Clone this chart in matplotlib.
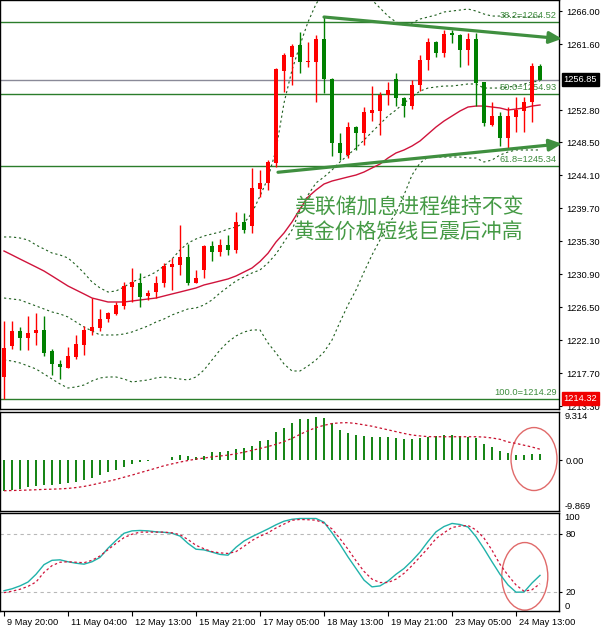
import matplotlib
matplotlib.use("Agg")
import numpy as np
import matplotlib.pyplot as plt
import matplotlib.transforms as mtransforms
from matplotlib.patches import Ellipse

plt.rcParams["font.family"] = ["Liberation Sans", "DejaVu Sans"]

# ---- H4 candles (XAUUSD) ----
opens = [1217.20, 1221.33, 1223.33, 1222.40, 1223.07, 1223.47, 1220.67, 1218.93, 1218.40, 1219.87,
         1221.47, 1223.33, 1223.73, 1224.93, 1225.60, 1226.67, 1229.20, 1229.73, 1228.00, 1228.53,
         1229.73, 1231.87, 1232.13, 1233.20, 1229.73, 1231.47, 1234.67, 1233.87, 1234.80, 1234.13,
         1237.87, 1237.33, 1242.27, 1243.07, 1245.73, 1258.00, 1259.87, 1261.47, 1259.20, 1259.20,
         1262.27, 1256.93, 1248.40, 1246.80, 1250.53, 1249.73, 1252.40, 1252.67, 1254.80, 1256.93,
         1254.40, 1253.33, 1256.13, 1259.47, 1261.87, 1260.40, 1263.07, 1262.80, 1260.80, 1262.27,
         1256.53, 1250.80, 1252.00, 1249.07, 1251.87, 1252.67, 1253.87, 1258.67]
highs = [1224.67, 1224.67, 1223.87, 1225.33, 1225.73, 1225.33, 1220.93, 1219.47, 1221.20, 1222.80,
         1224.00, 1227.73, 1226.27, 1225.87, 1227.20, 1229.87, 1231.73, 1231.07, 1228.80, 1230.67,
         1232.40, 1233.07, 1237.47, 1234.93, 1231.47, 1234.80, 1235.33, 1235.60, 1236.13, 1239.20,
         1239.07, 1245.07, 1244.80, 1246.13, 1258.40, 1260.40, 1261.60, 1263.20, 1261.87, 1262.80,
         1265.20, 1257.07, 1249.73, 1251.20, 1250.67, 1253.20, 1256.00, 1255.20, 1256.53, 1257.73,
         1254.53, 1256.80, 1260.13, 1262.40, 1262.00, 1263.47, 1263.47, 1262.93, 1263.07, 1263.07,
         1256.53, 1253.87, 1252.53, 1253.20, 1254.53, 1254.53, 1259.07, 1258.93]
lows = [1214.32, 1220.93, 1220.80, 1220.80, 1221.47, 1220.00, 1217.47, 1216.93, 1218.40, 1219.60,
        1220.13, 1222.80, 1223.33, 1224.53, 1225.47, 1226.27, 1227.20, 1226.53, 1227.47, 1227.73,
        1229.20, 1228.80, 1230.80, 1229.47, 1229.73, 1230.40, 1232.67, 1233.33, 1233.47, 1233.73,
        1236.40, 1236.40, 1241.20, 1242.13, 1245.20, 1255.20, 1256.13, 1257.73, 1258.53, 1253.87,
        1255.07, 1246.67, 1246.13, 1246.40, 1247.47, 1248.13, 1251.33, 1249.47, 1253.47, 1253.33,
        1251.87, 1252.93, 1255.33, 1258.13, 1259.87, 1259.87, 1261.73, 1258.53, 1258.80, 1253.33,
        1250.67, 1250.67, 1248.00, 1247.73, 1249.87, 1249.87, 1251.20, 1256.85]
closes = [1221.07, 1223.33, 1222.40, 1223.07, 1223.47, 1220.40, 1218.93, 1218.53, 1220.00, 1221.60,
          1223.47, 1223.87, 1224.93, 1225.73, 1226.80, 1229.33, 1229.87, 1227.87, 1228.40, 1229.73,
          1232.00, 1232.27, 1233.20, 1229.73, 1230.40, 1234.67, 1233.87, 1234.80, 1234.13, 1237.87,
          1236.80, 1242.40, 1243.07, 1245.87, 1258.27, 1260.13, 1261.33, 1259.20, 1259.33, 1262.27,
          1256.93, 1248.40, 1247.07, 1250.53, 1249.73, 1252.53, 1252.80, 1254.80, 1255.47, 1254.40,
          1253.33, 1256.13, 1259.47, 1261.87, 1260.40, 1262.93, 1262.80, 1260.80, 1262.27, 1256.40,
          1251.07, 1252.00, 1249.07, 1252.00, 1252.80, 1253.87, 1258.67, 1256.85]

# Bollinger bands (dotted) and the red moving average
bb_upper = [1235.87, 1235.87, 1235.73, 1235.47, 1234.80, 1234.27, 1233.73, 1233.47, 1233.07, 1232.13,
            1231.07, 1229.87, 1229.07, 1228.53, 1228.67, 1229.20, 1229.87, 1230.27, 1230.67, 1231.20,
            1232.00, 1232.93, 1234.13, 1235.07, 1235.60, 1236.00, 1236.27, 1236.53, 1236.93, 1237.20,
            1237.73, 1239.07, 1241.33, 1243.73, 1247.47, 1253.73, 1258.13, 1261.47, 1264.53, 1266.93,
            1268.53, 1269.33, 1269.60, 1269.47, 1269.07, 1268.27, 1267.47, 1266.40, 1265.33, 1264.53,
            1264.13, 1264.40, 1264.93, 1265.20, 1265.47, 1265.87, 1266.00, 1266.13, 1266.27, 1266.00,
            1265.60, 1265.33, 1265.33, 1265.33, 1265.20, 1265.20, 1265.20, 1265.20]
bb_mid = [1227.73, 1227.60, 1227.47, 1227.07, 1226.67, 1226.27, 1225.87, 1225.60, 1225.20, 1224.53,
          1223.87, 1223.33, 1222.80, 1222.80, 1222.80, 1222.93, 1223.20, 1223.60, 1224.00, 1224.53,
          1224.93, 1225.47, 1225.87, 1226.27, 1226.40, 1226.80, 1227.47, 1228.40, 1229.20, 1230.00,
          1230.53, 1231.07, 1231.47, 1232.40, 1233.60, 1235.20, 1236.80, 1239.47, 1241.47, 1243.07,
          1243.87, 1244.80, 1245.87, 1246.80, 1247.73, 1248.80, 1249.87, 1250.93, 1252.00, 1252.80,
          1253.73, 1254.53, 1255.33, 1255.73, 1255.87, 1256.00, 1256.00, 1256.13, 1256.27, 1256.27,
          1255.73, 1255.73, 1255.73, 1255.87, 1256.00, 1256.27, 1256.53, 1256.67]
bb_lower = [1219.47, 1219.33, 1219.07, 1218.67, 1218.27, 1217.60, 1216.93, 1216.27, 1215.73, 1215.87,
            1216.13, 1216.67, 1217.07, 1217.20, 1217.20, 1216.93, 1216.53, 1216.67, 1216.80, 1217.07,
            1217.20, 1217.07, 1216.93, 1216.80, 1217.20, 1218.13, 1219.47, 1220.80, 1221.87, 1222.67,
            1223.20, 1223.47, 1223.47, 1221.73, 1220.40, 1218.93, 1218.00, 1218.00, 1218.67, 1219.47,
            1220.53, 1222.13, 1224.53, 1226.80, 1228.80, 1231.20, 1233.47, 1235.47, 1237.47, 1239.07,
            1241.47, 1244.13, 1245.73, 1246.53, 1246.53, 1246.53, 1246.53, 1246.53, 1246.40, 1246.40,
            1245.87, 1246.13, 1246.80, 1247.20, 1247.47, 1247.47, 1247.47, 1247.47]
ma_red = [1234.00, 1233.47, 1232.93, 1232.40, 1231.87, 1231.33, 1230.67, 1230.00, 1229.33, 1228.80,
          1228.27, 1227.73, 1227.47, 1227.20, 1227.20, 1227.20, 1227.33, 1227.47, 1227.60, 1227.73,
          1228.00, 1228.27, 1228.53, 1228.80, 1229.07, 1229.47, 1229.73, 1230.00, 1230.27, 1230.67,
          1231.20, 1231.73, 1232.60, 1233.70, 1235.20, 1236.40, 1237.87, 1239.60, 1241.20, 1242.13,
          1242.93, 1243.33, 1243.60, 1243.87, 1244.13, 1244.53, 1245.07, 1245.60, 1246.40, 1247.07,
          1247.47, 1248.00, 1248.67, 1249.60, 1250.53, 1251.33, 1252.00, 1252.67, 1253.20, 1253.33,
          1253.33, 1253.20, 1253.07, 1252.80, 1252.93, 1253.07, 1253.33, 1253.47]

# MACD histogram and signal
macd_hist = [-5.94, -5.75, -5.62, -5.30, -4.97, -4.84, -4.84, -4.65, -4.52, -4.20,
             -3.81, -3.49, -2.91, -2.39, -2.00, -1.35, -0.84, -0.45, -0.26, -0.06,
             0.05, 0.52, 0.96, 0.87, 0.52, 0.84, 1.49, 1.66, 1.81, 2.13,
             2.32, 2.78, 3.75, 3.93, 5.36, 6.14, 7.17, 7.87, 7.88, 8.40,
             8.21, 7.11, 5.81, 5.30, 4.84, 4.65, 4.52, 4.46, 4.46, 4.20,
             4.00, 4.13, 4.33, 4.46, 4.65, 4.78, 4.84, 4.65, 4.52, 4.33,
             3.16, 2.52, 1.74, 1.42, 0.97, 0.90, 1.22, 1.10]
macd_signal = [-5.94, -5.90, -5.86, -5.81, -5.75, -5.68, -5.64, -5.58, -5.49, -5.33,
               -5.11, -4.81, -4.46, -4.11, -3.76, -3.32, -2.91, -2.45, -2.01, -1.57,
               -1.10, -0.74, -0.39, -0.09, 0.19, 0.39, 0.61, 0.79, 0.96, 1.22,
               1.53, 1.88, 2.25, 2.62, 3.06, 3.58, 4.20, 4.98, 5.68, 6.29,
               6.73, 7.08, 7.21, 7.25, 7.08, 6.82, 6.56, 6.21, 5.86, 5.51,
               5.16, 4.85, 4.68, 4.54, 4.52, 4.52, 4.52, 4.52, 4.52, 4.52,
               4.46, 4.28, 4.02, 3.50, 3.23, 2.88, 2.53, 2.10]
macd_range = (-9.869, 9.314)

# Stochastic main / signal
stoch_main = [21, 23, 26, 30, 38, 48, 52.5, 53, 51, 49.5,
              48.5, 51, 55.5, 65, 73, 80.5, 83, 83.4, 83, 82,
              81.5, 80.5, 77.6, 70, 64, 63.3, 61, 58.6, 57.8, 66,
              72.5, 77, 81, 85, 89.3, 93, 95, 95.8, 95.8, 95.8,
              92, 81, 69, 56, 44, 32, 25, 26, 31, 38,
              44, 52, 61, 72, 82, 87.5, 90.7, 89.6, 87, 77,
              64.5, 51, 38, 27, 19.5, 19.6, 29, 36.9]
stoch_signal = [19, 20.5, 22.5, 25.5, 30, 40, 47, 50.5, 51, 50.5,
                50, 52.5, 57, 63.5, 70, 76, 79.5, 81.7, 81.7, 81.7,
                81.7, 81, 79, 74, 68, 64.5, 61.5, 60.2, 59.6, 61.5,
                67, 73, 77.5, 81, 86, 90, 94, 94.8, 94.5, 94.1,
                91, 85, 75, 64, 52, 41, 33, 29.5, 29.5, 33,
                39, 47, 56, 65, 75, 81, 86.5, 88, 88.6, 84,
                75.5, 63, 48.3, 37, 27, 20.5, 22, 28.3]

# Fibonacci retracement levels
fib_levels = [1264.52, 1254.93, 1245.34, 1214.29]
fib_labels = ["38.2=1264.52", "50.0=1254.93", "61.8=1245.34", "100.0=1214.29"]
bid_price = 1256.85
low_price = 1214.32

# Hand-drawn trend lines: (bar, price) start -> end
trend_upper = [(40, 1265.2), (69.75, 1262.3)]
trend_lower = [(34.25, 1244.5), (69.75, 1248.3)]

price_ticks = [1266.00, 1261.60, 1252.80, 1248.50, 1244.10, 1239.70,
               1235.30, 1230.90, 1226.50, 1222.10, 1217.70, 1213.30]
time_tick_bars = [0, 8, 16, 24, 32, 40, 48, 56, 64]
time_labels = ["9 May 20:00", "11 May 04:00", "12 May 13:00", "15 May 21:00",
               "17 May 05:00", "18 May 13:00", "19 May 21:00", "23 May 05:00",
               "24 May 13:00"]

headline = ["美联储加息进程维持不变", "黄金价格短线巨震后冲高"]

UP = "#ff0000"
DOWN = "#008000"
LBL = 6.7

W, H = 601, 630


def rect(x0, y0, x1, y1):
    return [x0 / W, 1 - y1 / H, (x1 - x0) / W, (y1 - y0) / H]


def style_axis(ax):
    for s in ax.spines.values():
        s.set_color("black")
        s.set_linewidth(1)
    ax.set_xlim(-0.5, 69.375)
    ax.yaxis.tick_right()
    ax.tick_params(axis="y", direction="out", length=2.5, width=0.8, pad=2.5,
                   labelsize=LBL, colors="black")
    ax.tick_params(axis="x", bottom=False, labelbottom=False)


fig = plt.figure(figsize=(W / 100, H / 100), dpi=100)
ax = fig.add_axes(rect(0, 0, 559, 409))
ax_m = fig.add_axes(rect(0, 412, 559, 511))
ax_s = fig.add_axes(rect(0, 513, 559, 611))
for a in (ax, ax_m, ax_s):
    style_axis(a)

x = np.arange(len(opens))
o, h, l, c = map(np.array, (opens, highs, lows, closes))

# ---- main price panel ----
ax.set_ylim(1212.93, 1267.47)
ax.set_yticks(price_ticks)
ax.set_yticklabels([f"{p:.2f}" for p in price_ticks])

for lvl, txt in zip(fib_levels, fib_labels):
    ax.axhline(lvl, color="#2b7d2b", lw=1, zorder=1)
    ax.annotate(txt, xy=(557 / 559, lvl), xycoords=("axes fraction", "data"),
                xytext=(0, 1.5), textcoords="offset points", ha="right", va="bottom",
                fontsize=LBL, color="#3d8b3d", zorder=2)
ax.axhline(bid_price, color="#8a8a98", lw=1, zorder=1)

ax.plot(x, bb_upper, color="#1f5f1f", lw=0.8, ls=(0, (2, 2.5)), zorder=2)
ax.plot(x, bb_mid, color="#1f5f1f", lw=0.8, ls=(0, (2, 2.5)), zorder=2)
ax.plot(x, bb_lower, color="#1f5f1f", lw=0.8, ls=(0, (2, 2.5)), zorder=2)
ax.plot(x, ma_red, color="#d0143c", lw=1, zorder=2)

colors = np.where(c >= o, UP, DOWN)
ax.vlines(x, l, h, colors=colors, lw=1, zorder=3)
ax.bar(x, np.maximum(np.abs(c - o), 0.13), bottom=np.minimum(o, c), width=0.62,
       color=colors, linewidth=0, zorder=3)

for (x0, y0), (x1, y1) in (trend_upper, trend_lower):
    ax.annotate("", xy=(x1, y1), xytext=(x0, y0), annotation_clip=False,
                arrowprops=dict(arrowstyle="-|>,head_length=0.75,head_width=0.35",
                                lw=2.3, color="#3f8f3f", shrinkA=0, shrinkB=0,
                                clip_on=False), zorder=4)

for i, line in enumerate(headline):
    ax.text(294 / 559, 1 - (208 + 24 * i) / 409, line, transform=ax.transAxes,
            ha="left", va="center", fontsize=15, color="#459a45",
            family=["Noto Sans CJK SC", "DejaVu Sans"], zorder=5)

blend = mtransforms.blended_transform_factory(ax.transAxes, ax.transData)
ax.text(1.0 + 4.5 / 559, bid_price, f"{bid_price:.2f}", transform=blend, ha="left",
        va="center", fontsize=LBL, color="white", zorder=6,
        bbox=dict(boxstyle="square,pad=0.2", fc="black", ec="black"), clip_on=False)
ax.text(1.0 + 4.5 / 559, low_price, f"{low_price:.2f}", transform=blend, ha="left",
        va="center", fontsize=LBL, color="white", zorder=6,
        bbox=dict(boxstyle="square,pad=0.2", fc="#f00000", ec="#f00000"), clip_on=False)

# ---- MACD panel ----
ax_m.set_ylim(*macd_range)
ax_m.vlines(x, 0, macd_hist, colors="#007a00", lw=1.3)
ax_m.plot(x, macd_signal, color="#c8102e", lw=0.9, ls=(0, (2, 2)))
ax_m.set_yticks([0])
ax_m.set_yticklabels(["0.00"])
bm = mtransforms.blended_transform_factory(ax_m.transAxes, ax_m.transData)
ax_m.text(1.0 + 5.5 / 559, macd_range[1], f"{macd_range[1]:.3f}", transform=bm,
          ha="left", va="top", fontsize=LBL)
ax_m.text(1.0 + 5.5 / 559, macd_range[0], f"{macd_range[0]:.3f}", transform=bm,
          ha="left", va="bottom", fontsize=LBL)
ax_m.add_patch(Ellipse((66.25, 0.2), 5.75, 12.2, fill=False, ec="#e06a6a", lw=1))

# ---- Stochastic panel ----
ax_s.set_ylim(0, 101.5)
for lvl in (20, 80):
    ax_s.axhline(lvl, color="#b8b8b8", lw=0.8, ls=(0, (3, 3)))
ax_s.plot(x, stoch_main, color="#20b2aa", lw=1)
ax_s.plot(x, stoch_signal, color="#d0143c", lw=0.9, ls=(0, (2, 2)))
ax_s.set_yticks([20, 80])
ax_s.set_yticklabels(["20", "80"])
bs = mtransforms.blended_transform_factory(ax_s.transAxes, ax_s.transData)
ax_s.text(1.0 + 5.5 / 559, 101, "100", transform=bs, ha="left", va="top", fontsize=LBL)
ax_s.text(1.0 + 5.5 / 559, 0.5, "0", transform=bs, ha="left", va="bottom", fontsize=LBL)
ax_s.add_patch(Ellipse((65.1, 35.9), 5.75, 70, fill=False, ec="#e06a6a", lw=1))

ax_s.set_xticks(time_tick_bars)
ax_s.set_xticklabels(time_labels)
ax_s.tick_params(axis="x", bottom=True, labelbottom=True, direction="out", length=3.5,
                 width=0.8, pad=1.5, labelsize=LBL)
shift = mtransforms.ScaledTranslation(2 / 72, 0, fig.dpi_scale_trans)
for lbl in ax_s.get_xticklabels():
    lbl.set_ha("left")
    lbl.set_transform(lbl.get_transform() + shift)

fig.savefig("out.png", dpi=100, facecolor="white")
